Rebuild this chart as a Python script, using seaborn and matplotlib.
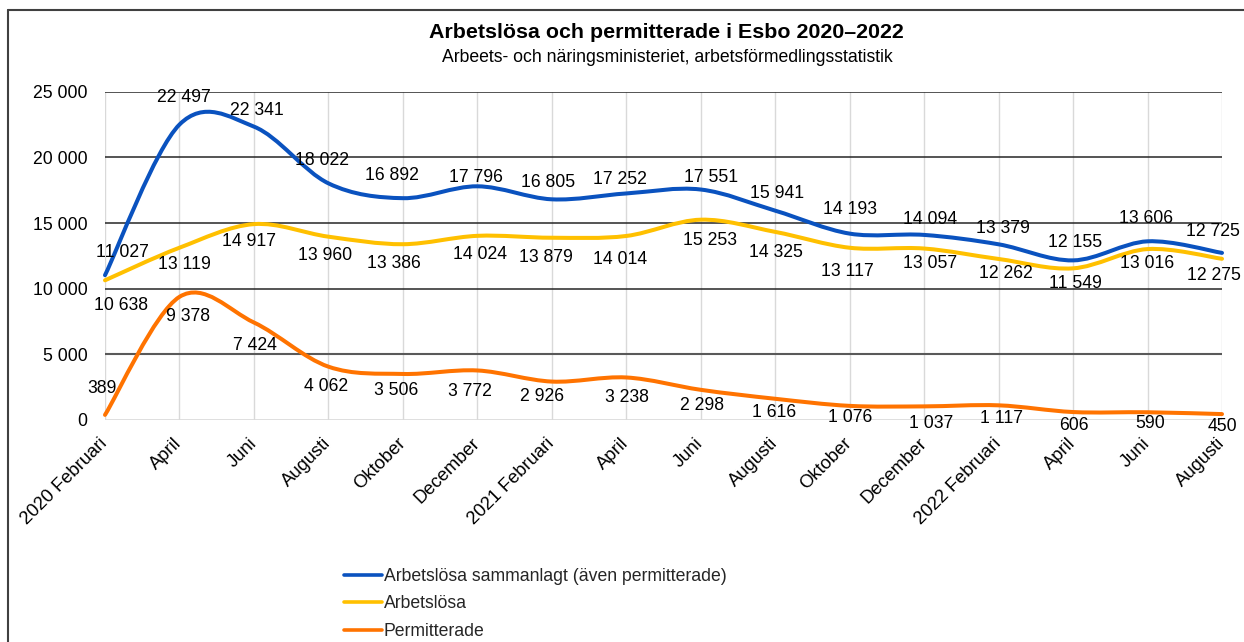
import numpy as np
import pandas as pd
import matplotlib
matplotlib.use("Agg")
import matplotlib.pyplot as plt
import seaborn as sns
from matplotlib.path import Path
from matplotlib.patches import PathPatch
from matplotlib.lines import Line2D

# ---------------- data ----------------
months = ["2020 Februari", "April", "Juni", "Augusti", "Oktober", "December",
          "2021 Februari", "April", "Juni", "Augusti", "Oktober", "December",
          "2022 Februari", "April", "Juni", "Augusti"]
total = [11027, 22497, 22341, 18022, 16892, 17796, 16805, 17252, 17551,
         15941, 14193, 14094, 13379, 12155, 13606, 12725]
unemployed = [10638, 13119, 14917, 13960, 13386, 14024, 13879, 14014, 15253,
              14325, 13117, 13057, 12262, 11549, 13016, 12275]
laid_off = [389, 9378, 7424, 4062, 3506, 3772, 2926, 3238, 2298,
            1616, 1076, 1037, 1117, 606, 590, 450]
series_names = ["Arbetslösa sammanlagt (även permitterade)", "Arbetslösa", "Permitterade"]
y_ticks = [0, 5000, 10000, 15000, 20000, 25000]

title = "Arbetslösa och permitterade i Esbo 2020–2022"
subtitle = "Arbeets- och näringsministeriet, arbetsförmedlingsstatistik"

# ---------------- style ----------------
colors = ["#0A52BF", "#FFC000", "#FF7300"]
# label offsets in pixels relative to the data point (dx right, dy down)
off_total = [(17, -23), (4, -27), (3, -16), (-6, -23), (-11, -23), (-1, -9), (-4, -17), (-6, -14),
             (10, -12), (2, -17), (0, -24), (6, -15), (4, -16), (2, -18), (-2, -23), (-9, -21)]
off_unemp = [(16, 25), (5, 17), (-5, 17), (-3, 19), (-9, 19), (3, 19), (-6, 20), (-6, 24),
             (9, 21), (1, 21), (-2, 24), (6, 15), (7, 15), (2, 15), (0, 14), (-8, 17)]
off_laid = [(-3, -26), (9, 20), (1, 23), (-2, 20), (-7, 17), (-7, 21), (-10, 15), (1, 20),
            (1, 16), (-1, 14), (0, 12), (7, 17), (3, 13), (1, 13), (3, 11), (0, 12)]
FS = 12.7

sns.set_theme(style="white")
plt.rcParams["font.family"] = ["Liberation Sans", "DejaVu Sans"]

W, H = 1244, 642
fig = plt.figure(figsize=(W / 100, H / 100), dpi=100)
fig.patch.set_facecolor("white")
left, right, top, bottom = 105, 1222, 91.7, 420
ax = fig.add_axes([left / W, 1 - bottom / H, (right - left) / W, (bottom - top) / H])

all_series = [total, unemployed, laid_off]
df = pd.DataFrame({
    "idx": np.tile(np.arange(len(months)), 3),
    "value": np.concatenate(all_series),
    "series": np.repeat(series_names, len(months)),
})
# seaborn sets up the axes from the data (lines drawn smoothed below)
sns.lineplot(data=df, x="idx", y="value", hue="series", palette=colors,
             linewidth=0, legend=False, ax=ax)


def smooth_path(vals):
    y = np.asarray(vals, float)
    x = np.arange(len(y), dtype=float)
    n = len(y)
    verts = [(x[0], y[0])]
    codes = [Path.MOVETO]
    for i in range(n - 1):
        p0 = max(i - 1, 0)
        p3 = min(i + 2, n - 1)
        c1 = (x[i] + (x[i + 1] - x[p0]) / 6, y[i] + (y[i + 1] - y[p0]) / 6)
        c2 = (x[i + 1] - (x[p3] - x[i]) / 6, y[i + 1] - (y[p3] - y[i]) / 6)
        verts += [c1, c2, (x[i + 1], y[i + 1])]
        codes += [Path.CURVE4] * 3
    return Path(verts, codes)


ax.set_xlim(0, len(months) - 1)
ax.set_ylim(0, 25000)

# grid
for xi in range(len(months)):
    ax.axvline(xi, color="#d9d9d9", lw=1.0, zorder=0)
for yt in y_ticks:
    if yt == 0:
        ax.axhline(yt, color="#d9d9d9", lw=1.2, zorder=0.5)
    elif yt == 5000:
        ax.axhline(yt, color="#595959", lw=1.5, zorder=0.5)
    else:
        ax.axhline(yt, color="#262626", lw=1.1, zorder=0.5)

for vals, c in zip(all_series, colors):
    patch = PathPatch(smooth_path(vals), facecolor="none", edgecolor=c, lw=2.9,
                      capstyle="round", joinstyle="round", zorder=3, clip_on=False)
    ax.add_patch(patch)


def fmt(v):
    return f"{int(v):,}".replace(",", " ")


for vals, offs in zip(all_series, [off_total, off_unemp, off_laid]):
    for i, (v, (dx, dy)) in enumerate(zip(vals, offs)):
        ax.annotate(fmt(v), (i, v), xytext=(dx, -dy), textcoords="offset pixels",
                    ha="center", va="center", fontsize=FS, color="black", zorder=5,
                    annotation_clip=False)

for s in ax.spines.values():
    s.set_visible(False)

ax.set_yticks(y_ticks)
ax.set_yticklabels([fmt(t) for t in y_ticks])
ax.set_xticks(range(len(months)))
ax.set_xticklabels(months, rotation=45, ha="right", va="center", rotation_mode="anchor")
ax.tick_params(axis="y", length=0, pad=12.5, labelsize=FS, labelcolor="black")
ax.tick_params(axis="x", length=0, pad=15, labelsize=13.2, labelcolor="black")
ax.set_xlabel("")
ax.set_ylabel("")

fig.text(666 / W, 1 - 33 / H, title, ha="center", va="center", fontsize=15.4,
         fontweight="bold", color="black")
fig.text(667 / W, 1 - 58 / H, subtitle, ha="center", va="center", fontsize=12.7,
         color="black")

handles = [Line2D([], [], color=c, lw=2.6) for c in colors]
fig.legend(handles, series_names, loc="center left",
           bbox_to_anchor=(344 / W, 1 - 604 / H), frameon=False, fontsize=FS,
           handlelength=2.15, handletextpad=0.1, labelspacing=0.6,
           borderpad=0, borderaxespad=0)

# outer chart frame (left and top edges visible)
fig.add_artist(Line2D([8 / W, 8 / W], [0, 1 - 10 / H], transform=fig.transFigure,
                      color="#404040", lw=1.5))
fig.add_artist(Line2D([8 / W, 1], [1 - 10 / H, 1 - 10 / H], transform=fig.transFigure,
                      color="#404040", lw=1.5))

fig.savefig("out.png", dpi=100)
